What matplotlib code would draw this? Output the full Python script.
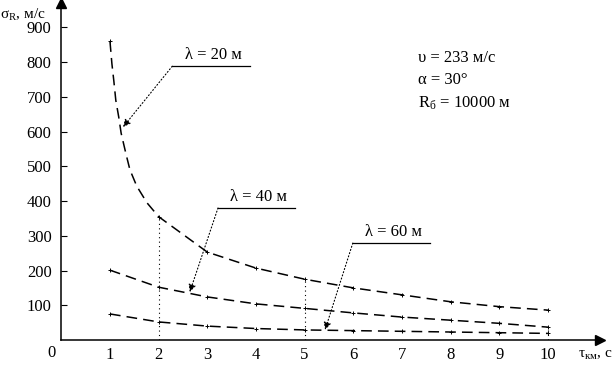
import matplotlib
matplotlib.use("Agg")
import matplotlib.pyplot as plt

# данные
t20 = [1.0, 1.04, 1.08, 1.12, 1.18, 1.23, 1.33, 1.41, 1.55, 1.76, 2, 3, 4, 5, 6, 7, 8, 9, 10]
s20 = [860, 795, 745, 690, 642, 595, 535, 490, 443, 395, 355, 253, 207, 175, 150, 130, 110, 96, 86]
t_int = [1, 2, 3, 4, 5, 6, 7, 8, 9, 10]
s40 = [201, 152, 124, 104, 91, 78, 66, 57, 48, 37]
s60 = [75, 52, 40, 33, 29, 27, 25, 23, 21, 19]
m20 = [860, 355, 253, 207, 175, 150, 130, 110, 96, 86]

xticks = [1, 2, 3, 4, 5, 6, 7, 8, 9, 10]
yticks = [100, 200, 300, 400, 500, 600, 700, 800, 900]

plt.rcParams["font.family"] = ["Liberation Serif", "DejaVu Serif"]
plt.rcParams["mathtext.default"] = "regular"
plt.rcParams["font.size"] = 12

fig = plt.figure(figsize=(6.12, 3.70), dpi=100)
ax = fig.add_axes([61.3 / 612, 30 / 370, 538.7 / 612, 337 / 370])
ax.set_xlim(0, 11.07)
ax.set_ylim(0, 970)

# кривые
for t, s in [(t20, s20), (t_int, s40), (t_int, s60)]:
    ax.plot(t, s, color="k", lw=1.1, dashes=(7, 4))
for s in [m20, s40, s60]:
    ax.plot(t_int, s, ls="none", marker="+", ms=2.5, mew=0.7, color="k")

# вертикальные пунктиры
ax.plot([2, 2], [0, 355], color="k", lw=0.8, ls=(0, (1, 3)))
ax.plot([5, 5], [0, 175], color="k", lw=0.8, ls=(0, (1, 3)))
ax.plot([10, 10], [0, 37], color="k", lw=0.8, ls=(0, (1, 3)))

# выноски
labels = ["λ = 20 м", "λ = 40 м", "λ = 60 м"]
shelf = [(2.28, 3.88, 788), (3.22, 4.80, 380), (5.99, 7.58, 279)]
tips = [(1.27, 613), (2.64, 138), (5.42, 29)]
for lab, (x0, x1, y), (tx, ty) in zip(labels, shelf, tips):
    ax.plot([x0, x1], [y, y], color="k", lw=0.9)
    ax.text((x0 + x1) / 2 + 0.05, y + 8, lab, ha="center", va="bottom")
    ax.annotate("", xy=(tx, ty), xytext=(x0, y),
                arrowprops=dict(arrowstyle="-|>", color="k", lw=0.8,
                                ls=(0, (1, 2)), mutation_scale=11,
                                shrinkA=0, shrinkB=0))

# параметры
ax.text(7.33, 811, "υ = 233 м/с", ha="left", va="center")
ax.text(7.33, 748, "α = 30°", ha="left", va="center")
ax.text(7.33, 682, "$R_б$ = 10000 м", ha="left", va="center")

# оси
for side in ["top", "right"]:
    ax.spines[side].set_visible(False)
ax.spines["left"].set_linewidth(1.1)
ax.spines["bottom"].set_linewidth(1.1)
ax.plot(1, 0, ">k", ms=7, transform=ax.transAxes, clip_on=False)
ax.plot(0, 1, "^k", ms=7, transform=ax.transAxes, clip_on=False)

ax.set_xticks(xticks)
ax.set_xticklabels([str(v) for v in xticks], fontfamily="Liberation Serif", fontsize=12)
ax.set_yticks(yticks)
ax.set_yticklabels([str(v) for v in yticks], fontfamily="Liberation Serif", fontsize=12)
ax.tick_params(axis="x", length=0, pad=5)
ax.tick_params(axis="y", direction="in", length=4, width=0.8, pad=7)
ax.text(-0.21, -14, "0", ha="center", va="top")

fig.text(0.0, 1 - 15 / 370, "$σ_R$, м/с", ha="left", va="center", fontsize=11)
fig.text(578 / 612, 1 - 355 / 370, "$τ_{км}$, с", ha="left", va="center", fontsize=11)

fig.savefig("out.png", dpi=100)
